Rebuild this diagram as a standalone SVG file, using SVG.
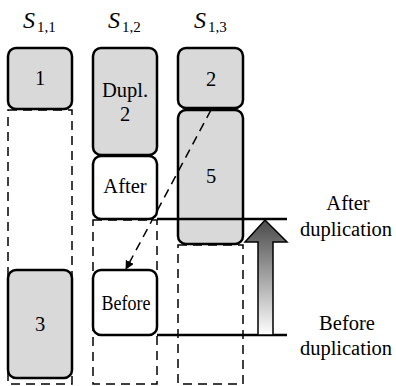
<svg xmlns="http://www.w3.org/2000/svg" width="396" height="386" viewBox="0 0 396 386">
<style>
.box{stroke:#000;stroke-width:2.5}
.g{fill:#d9d9d9}
.w{fill:#fff}
.dash{fill:none;stroke:#000;stroke-width:1.5;stroke-dasharray:9,6}
text{font-family:'Liberation Serif','Times New Roman',Times,serif;fill:#000}
.t{font-size:20.5px;text-anchor:middle}
.h{font-size:24px;font-style:italic}
.sub{font-size:15px}
.line{stroke:#000;stroke-width:2.5}
</style>
<defs>
<linearGradient id="grad" x1="0" y1="0" x2="0" y2="1">
<stop offset="0" stop-color="#4a4a4a"/>
<stop offset="1" stop-color="#ffffff"/>
</linearGradient>
<marker id="ah" viewBox="0 0 10 10" refX="9" refY="5" markerWidth="9" markerHeight="9" orient="auto" markerUnits="userSpaceOnUse">
<path d="M0,0 L10,5 L0,10 Z" fill="#000"/>
</marker>
</defs>
<g id="headers">
<text class="h" x="23" y="28">S</text><text class="sub" x="37" y="32">1,1</text>
<text class="h" x="108" y="28">S</text><text class="sub" x="122" y="32">1,2</text>
<text class="h" x="194" y="28">S</text><text class="sub" x="208" y="32">1,3</text>
</g>
<g id="columns">
<rect class="dash" x="8" y="110" width="64" height="274"/>
<rect class="dash" x="93" y="220" width="64" height="164"/>
<rect class="dash" x="178" y="245" width="65" height="139"/>
</g>
<g id="n1"><rect class="box g" x="8" y="48" width="64" height="61" rx="8"/><text class="t" x="40" y="85">1</text></g>
<g id="n3"><rect class="box g" x="8" y="270" width="64" height="108" rx="8"/><text class="t" x="40" y="331">3</text></g>
<g id="dupl2"><rect class="box g" x="93" y="48" width="64" height="107" rx="8"/><text class="t" x="125" y="97">Dupl.</text><text class="t" x="125" y="120.5">2</text></g>
<g id="after"><rect class="box w" x="93" y="156" width="64" height="63" rx="8"/><text class="t" x="125" y="193">After</text></g>
<g id="before"><rect class="box w" x="93" y="270" width="64" height="65" rx="8"/><text class="t" x="126" y="310" textLength="49" lengthAdjust="spacingAndGlyphs">Before</text></g>
<g id="n2"><rect class="box g" x="178" y="48" width="65" height="60" rx="8"/><text class="t" x="211" y="86">2</text></g>
<g id="n5"><rect class="box g" x="178" y="110" width="65" height="134" rx="8"/><text class="t" x="211" y="183">5</text></g>
<g id="connectors">
<line class="line" x1="157" y1="219" x2="287" y2="219"/>
<line class="line" x1="157" y1="335" x2="287" y2="335"/>
<line x1="211" y1="110" x2="126" y2="269" stroke="#000" stroke-width="1.5" stroke-dasharray="9,6" marker-end="url(#ah)"/>
<path d="M258,335 L258,242 L245,242 L265,220 L287,242 L273,242 L273,335 Z" fill="url(#grad)" stroke="#000" stroke-width="1.5"/>
</g>
<g id="labels">
<text class="t" x="348" y="210">After</text>
<text class="t" x="346" y="236">duplication</text>
<text class="t" x="347" y="330">Before</text>
<text class="t" x="346" y="355">duplication</text>
</g>
</svg>
